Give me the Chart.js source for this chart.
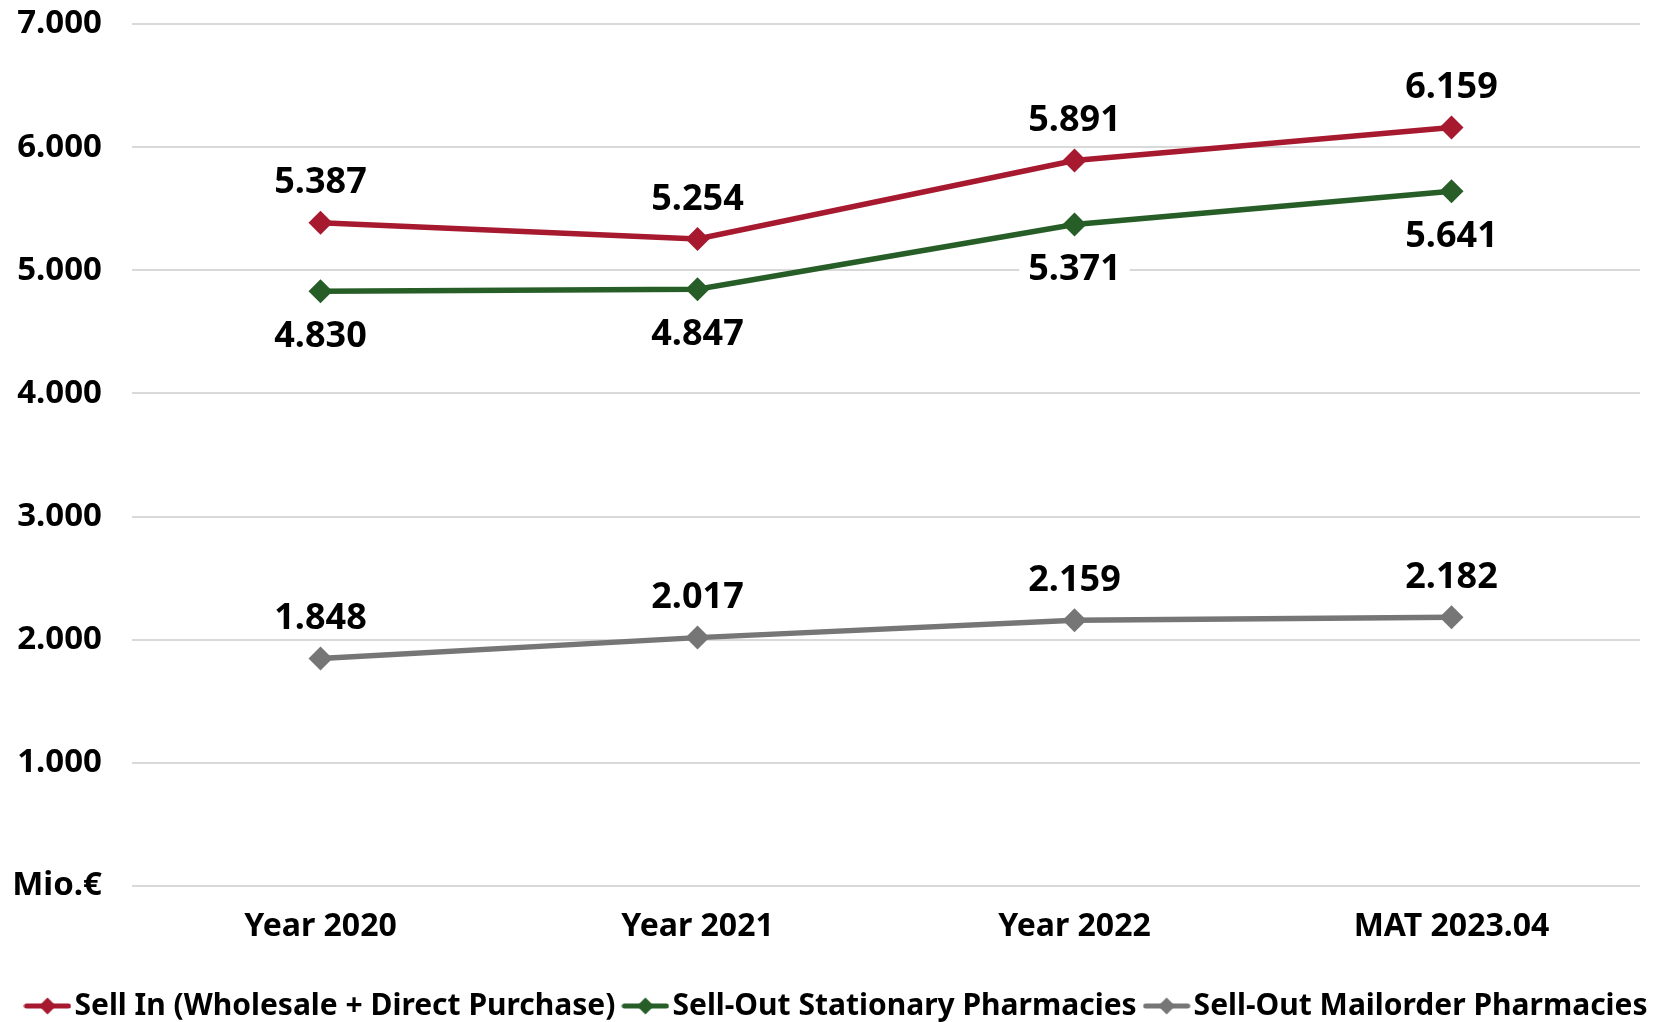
<!DOCTYPE html>
<html>
<head>
<meta charset="utf-8">
<script src="https://cdn.jsdelivr.net/npm/chart.js@4.4.0/dist/chart.umd.min.js"></script>
<style>
html, body { margin: 0; padding: 0; background: #fff; }
</style>
</head>
<body>
<canvas id="chart" width="1655" height="1022" style="width:1655px;height:1022px;display:block"></canvas>
<script>
const categories = ["Year 2020", "Year 2021", "Year 2022", "MAT 2023.04"];
const sellIn = [5387, 5254, 5891, 6159];
const stationary = [4830, 4847, 5371, 5641];
const mailorder = [1848, 2017, 2159, 2182];
const seriesNames = ["Sell In (Wholesale + Direct Purchase)", "Sell-Out Stationary Pharmacies", "Sell-Out Mailorder Pharmacies"];
const yTickLabels = ["Mio.€", "1.000", "2.000", "3.000", "4.000", "5.000", "6.000", "7.000"];

const colors = ['#A6192E', '#275E27', '#767676'];
const labelSide = ['above', 'below', 'above'];
const fontFamily = '"Noto Sans", "Liberation Sans", sans-serif';

function fmt(v) {
	return v.toString().replace(/\B(?=(\d{3})+(?!\d))/g, '.');
}

// legend marker: short line with a diamond, like the office legend
function legendMarker(color) {
	const c = document.createElement('canvas');
	c.width = 48;
	c.height = 24;
	const g = c.getContext('2d');
	g.strokeStyle = color;
	g.lineWidth = 5;
	g.lineCap = 'round';
	g.beginPath();
	g.moveTo(3, 12);
	g.lineTo(45, 12);
	g.stroke();
	g.fillStyle = color;
	g.beginPath();
	g.moveTo(24, 3.5);
	g.lineTo(32.5, 12);
	g.lineTo(24, 20.5);
	g.lineTo(15.5, 12);
	g.closePath();
	g.fill();
	return c;
}

const valueLabels = {
	id: 'valueLabels',
	afterDatasetsDraw(chart) {
		const ctx = chart.ctx;
		const size = 36;
		ctx.save();
		ctx.font = 'bold ' + size + 'px ' + fontFamily;
		ctx.textAlign = 'center';
		ctx.textBaseline = 'alphabetic';
		chart.data.datasets.forEach((ds, i) => {
			const meta = chart.getDatasetMeta(i);
			meta.data.forEach((pt, j) => {
				const txt = fmt(ds.data[j]);
				const cy = pt.y + (labelSide[i] === 'above' ? -42 : 43);
				const w = ctx.measureText(txt).width;
				ctx.fillStyle = '#fff';
				ctx.fillRect(pt.x - w / 2 - 9, cy - 18, w + 18, 36);
				ctx.fillStyle = '#000';
				ctx.fillText(txt, pt.x, cy + 0.357 * size);
			});
		});
		ctx.restore();
	}
};

// nudge the legend row a little (the marker pictures stick out left of the box)
const legendNudge = {
	id: 'legendNudge',
	afterLayout(chart) {
		const l = chart.legend;
		if (!l) return;
		l.left += 14;
		l.right += 14;
		l.top += 9;
		l.bottom += 9;
	}
};

const ctx = document.getElementById('chart').getContext('2d');

const chart = new Chart(ctx, {
	type: 'line',
	data: {
		labels: categories,
		datasets: [sellIn, stationary, mailorder].map((d, i) => ({
			label: seriesNames[i],
			data: d,
			yAxisID: 'y',
			borderColor: colors[i],
			backgroundColor: colors[i],
			borderWidth: 5.5,
			pointStyle: 'rectRot',
			pointRadius: 12,
			pointHoverRadius: 12,
			pointBorderWidth: 0,
			pointBackgroundColor: colors[i],
			tension: 0,
		}))
	},
	options: {
		responsive: false,
		animation: false,
		devicePixelRatio: 1,
		layout: {
			padding: {top: 24, right: 0, left: 0, bottom: 0}
		},
		scales: {
			y: {
				min: 0,
				max: 7000,
				ticks: {
					stepSize: 1000,
					color: '#000',
					padding: 30,
					font: {family: fontFamily, size: 33, weight: 'bold'},
					callback: (value, index) => yTickLabels[index],
				},
				grid: {
					color: '#D9D9D9',
					lineWidth: 2,
					drawTicks: false,
				},
				border: {display: false},
				afterFit: (scale) => {
					scale.width = 132;
					scale.paddingTop = 0;
					scale.paddingBottom = 0;
				}
			},
			// empty right axis, only keeps the plot clear of the right edge
			yRight: {
				position: 'right',
				ticks: {display: false},
				grid: {display: false},
				border: {display: false},
				afterFit: (scale) => {
					scale.width = 15;
					scale.paddingTop = 0;
					scale.paddingBottom = 0;
				}
			},
			x: {
				offset: true,
				ticks: {
					color: '#000',
					padding: 22,
					maxRotation: 0,
					autoSkip: false,
					font: {family: fontFamily, size: 32, weight: 'bold'},
				},
				grid: {display: false, drawTicks: false},
				border: {display: false},
				afterFit: (scale) => { scale.height = 78; }
			}
		},
		plugins: {
			legend: {
				position: 'bottom',
				labels: {
					usePointStyle: true,
					pointStyleWidth: 24,
					padding: 18,
					color: '#000',
					font: {family: fontFamily, size: 30, weight: 'bold'},
					generateLabels: (chart) => chart.data.datasets.map((ds, i) => ({
						text: ds.label,
						pointStyle: legendMarker(colors[i]),
						fillStyle: colors[i],
						strokeStyle: colors[i],
						lineWidth: 0,
						hidden: false,
						fontColor: '#000',
						datasetIndex: i,
					}))
				}
			},
			title: {display: false},
			tooltip: {enabled: false}
		}
	},
	plugins: [valueLabels, legendNudge]
});
</script>
</body>
</html>
